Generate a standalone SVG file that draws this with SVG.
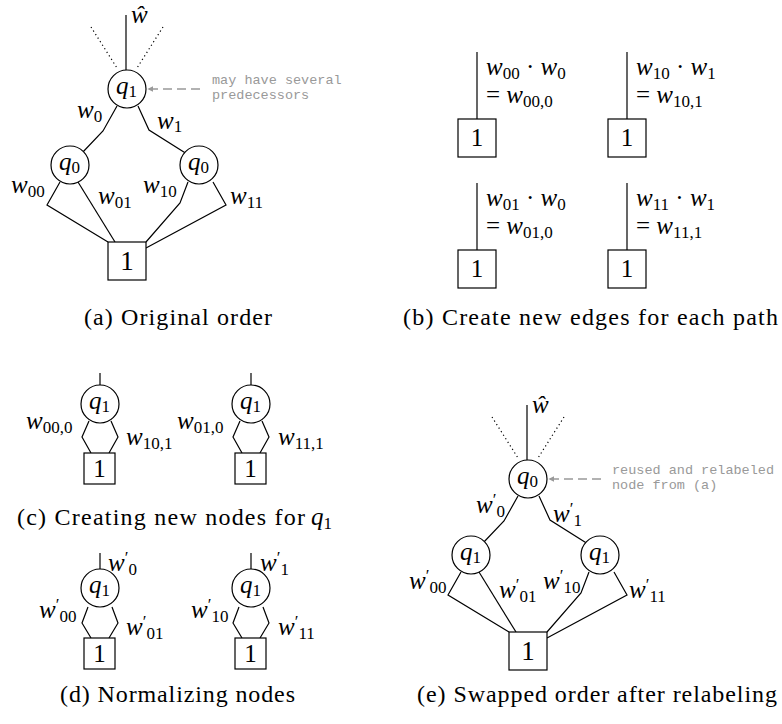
<svg xmlns="http://www.w3.org/2000/svg" width="782" height="724" viewBox="0 0 782 724">
<defs>
<style>
text{font-family:"Liberation Serif","Times New Roman","DejaVu Serif",serif}
.m{font-style:italic;font-size:25px;fill:#000}
.s{font-style:normal;font-size:17px}
.p{font-style:normal;font-size:17px}
.n{font-style:normal;font-size:25px;fill:#000}
.cap{font-size:24px;fill:#000}
.ann{font-family:"Liberation Mono","Courier New",monospace;font-size:13.5px;fill:#999}
.e{stroke:#000;stroke-width:1.2;fill:none}
.dot{stroke:#000;stroke-width:1.2;fill:none;stroke-dasharray:1.2 3}
.arr{stroke:#999;stroke-width:1.6;fill:none;stroke-dasharray:9 5}
.c{fill:#fff;stroke:#000;stroke-width:1.2}
</style>
<marker id="ah" viewBox="0 0 10 10" refX="9" refY="5" markerWidth="6" markerHeight="6" orient="auto" markerUnits="userSpaceOnUse">
<path d="M0,0 L10,5 L0,10 z" fill="#999"/>
</marker>
</defs>
<rect width="782" height="724" fill="#fff"/>

<!-- (a) -->
<g id="a-connectors">
<line class="e" x1="126" y1="15" x2="126" y2="70"/>
<line class="dot" x1="91" y1="27" x2="117" y2="68"/>
<line class="dot" x1="163" y1="27" x2="137" y2="68"/>
<polyline class="e" points="117,106 103,131 82,153"/>
<polyline class="e" points="138,106 149,130 187,154"/>
<polyline class="e" points="60,182 47,205 108,242"/>
<polyline class="e" points="78,182 115,242"/>
<polyline class="e" points="188,182 180,203 146,242"/>
<polyline class="e" points="213,182 226,205 146,248"/>
<line class="arr" x1="200" y1="89" x2="148" y2="89" marker-end="url(#ah)"/>
<text class="m" x="131" y="23">ŵ</text>
<text class="m" x="77" y="118">w<tspan class="s" dy="4">0</tspan></text>
<text class="m" x="157" y="129">w<tspan class="s" dy="3">1</tspan></text>
<text class="m" x="11" y="193">w<tspan class="s" dy="4">00</tspan></text>
<text class="m" x="98" y="204">w<tspan class="s" dy="4">01</tspan></text>
<text class="m" x="143" y="193">w<tspan class="s" dy="4">10</tspan></text>
<text class="m" x="230" y="204">w<tspan class="s" dy="4">11</tspan></text>
<text class="ann" x="212" y="84">may have several</text>
<text class="ann" x="212" y="99">predecessors</text>
</g>
<g id="a-q1"><circle class="c" cx="127" cy="89" r="19"/><text class="m" x="116" y="94">q<tspan class="s" dy="3">1</tspan></text></g>
<g id="a-q0-left"><circle class="c" cx="70" cy="165" r="19"/><text class="m" x="59" y="170">q<tspan class="s" dy="3">0</tspan></text></g>
<g id="a-q0-right"><circle class="c" cx="199" cy="165" r="19"/><text class="m" x="188" y="170">q<tspan class="s" dy="3">0</tspan></text></g>
<g id="a-one"><rect class="c" x="108" y="242" width="38" height="38"/><text class="n" x="127" y="270" text-anchor="middle" style="font-size:27px">1</text></g>
<text class="cap" x="84" y="325" textLength="188" lengthAdjust="spacing">(a) Original order</text>

<!-- (b) -->
<g id="b-connectors">
<line class="e" x1="477" y1="52" x2="477" y2="119"/>
<line class="e" x1="627" y1="52" x2="627" y2="119"/>
<line class="e" x1="477" y1="183" x2="477" y2="250"/>
<line class="e" x1="627" y1="183" x2="627" y2="250"/>
<text class="m" x="486" y="75">w<tspan class="s" dy="4">00</tspan><tspan class="n" dy="-4"> · </tspan>w<tspan class="s" dy="4">0</tspan></text>
<text class="m" x="486" y="103"><tspan class="n">= </tspan>w<tspan class="s" dy="4">00,0</tspan></text>
<text class="m" x="636" y="75">w<tspan class="s" dy="4">10</tspan><tspan class="n" dy="-4"> · </tspan>w<tspan class="s" dy="4">1</tspan></text>
<text class="m" x="636" y="103"><tspan class="n">= </tspan>w<tspan class="s" dy="4">10,1</tspan></text>
<text class="m" x="486" y="206">w<tspan class="s" dy="4">01</tspan><tspan class="n" dy="-4"> · </tspan>w<tspan class="s" dy="4">0</tspan></text>
<text class="m" x="486" y="234"><tspan class="n">= </tspan>w<tspan class="s" dy="4">01,0</tspan></text>
<text class="m" x="636" y="206">w<tspan class="s" dy="4">11</tspan><tspan class="n" dy="-4"> · </tspan>w<tspan class="s" dy="4">1</tspan></text>
<text class="m" x="636" y="234"><tspan class="n">= </tspan>w<tspan class="s" dy="4">11,1</tspan></text>
</g>
<g id="b-one-00"><rect class="c" x="458" y="119" width="38" height="38"/><text class="n" x="477" y="146" text-anchor="middle">1</text></g>
<g id="b-one-10"><rect class="c" x="608" y="119" width="38" height="38"/><text class="n" x="627" y="146" text-anchor="middle">1</text></g>
<g id="b-one-01"><rect class="c" x="458" y="250" width="38" height="38"/><text class="n" x="477" y="277" text-anchor="middle">1</text></g>
<g id="b-one-11"><rect class="c" x="608" y="250" width="38" height="38"/><text class="n" x="627" y="277" text-anchor="middle">1</text></g>
<text class="cap" x="403" y="325" textLength="375" lengthAdjust="spacing">(b) Create new edges for each path</text>

<!-- (c) -->
<g id="c-connectors">
<line class="e" x1="100" y1="373" x2="100" y2="385"/>
<polyline class="e" points="89,421 82,437 91,453"/>
<polyline class="e" points="111,421 118,437 109,453"/>
<line class="e" x1="251" y1="373" x2="251" y2="385"/>
<polyline class="e" points="240,421 233,437 242,453"/>
<polyline class="e" points="262,421 269,437 260,453"/>
<text class="m" x="26" y="429">w<tspan class="s" dy="4">00,0</tspan></text>
<text class="m" x="126" y="445">w<tspan class="s" dy="4">10,1</tspan></text>
<text class="m" x="177" y="429">w<tspan class="s" dy="4">01,0</tspan></text>
<text class="m" x="278" y="445">w<tspan class="s" dy="4">11,1</tspan></text>
</g>
<g id="c-q1-left"><circle class="c" cx="100" cy="404" r="19"/><text class="m" x="89" y="409">q<tspan class="s" dy="3">1</tspan></text></g>
<g id="c-one-left"><rect class="c" x="84" y="453" width="31" height="31"/><text class="n" x="99.5" y="477" text-anchor="middle">1</text></g>
<g id="c-q1-right"><circle class="c" cx="251" cy="404" r="19"/><text class="m" x="240" y="409">q<tspan class="s" dy="3">1</tspan></text></g>
<g id="c-one-right"><rect class="c" x="235" y="453" width="31" height="31"/><text class="n" x="250.5" y="477" text-anchor="middle">1</text></g>
<text class="cap" x="17" y="525"><tspan textLength="288" lengthAdjust="spacing">(c) Creating new nodes for</tspan><tspan class="m" x="311">q</tspan><tspan class="s" dy="4">1</tspan></text>

<!-- (d) -->
<g id="d-connectors">
<line class="e" x1="100" y1="553" x2="100" y2="569"/>
<polyline class="e" points="88,607 82,623 91,638"/>
<polyline class="e" points="112,607 118,623 109,638"/>
<line class="e" x1="251" y1="553" x2="251" y2="569"/>
<polyline class="e" points="239,607 233,623 242,638"/>
<polyline class="e" points="263,607 269,623 260,638"/>
<text class="m" x="108" y="571">w<tspan class="p" dy="-8">′</tspan><tspan class="s" dy="12">0</tspan></text>
<text class="m" x="260" y="571">w<tspan class="p" dy="-8">′</tspan><tspan class="s" dy="12">1</tspan></text>
<text class="m" x="39" y="618">w<tspan class="p" dy="-8">′</tspan><tspan class="s" dy="12">00</tspan></text>
<text class="m" x="126" y="635">w<tspan class="p" dy="-8">′</tspan><tspan class="s" dy="12">01</tspan></text>
<text class="m" x="191" y="618">w<tspan class="p" dy="-8">′</tspan><tspan class="s" dy="12">10</tspan></text>
<text class="m" x="278" y="635">w<tspan class="p" dy="-8">′</tspan><tspan class="s" dy="12">11</tspan></text>
</g>
<g id="d-q1-left"><circle class="c" cx="100" cy="588" r="19"/><text class="m" x="89" y="593">q<tspan class="s" dy="3">1</tspan></text></g>
<g id="d-one-left"><rect class="c" x="84" y="638" width="31" height="31"/><text class="n" x="99.5" y="662" text-anchor="middle">1</text></g>
<g id="d-q1-right"><circle class="c" cx="251" cy="588" r="19"/><text class="m" x="240" y="593">q<tspan class="s" dy="3">1</tspan></text></g>
<g id="d-one-right"><rect class="c" x="235" y="638" width="31" height="31"/><text class="n" x="250.5" y="662" text-anchor="middle">1</text></g>
<text class="cap" x="60" y="702" textLength="235" lengthAdjust="spacing">(d) Normalizing nodes</text>

<!-- (e) -->
<g transform="translate(401,390)">
<g id="e-connectors">
<line class="e" x1="126" y1="15" x2="126" y2="70"/>
<line class="dot" x1="91" y1="27" x2="117" y2="68"/>
<line class="dot" x1="163" y1="27" x2="137" y2="68"/>
<polyline class="e" points="117,106 103,131 82,153"/>
<polyline class="e" points="138,106 149,130 187,154"/>
<polyline class="e" points="60,182 47,205 108,242"/>
<polyline class="e" points="78,182 115,242"/>
<polyline class="e" points="188,182 180,203 146,242"/>
<polyline class="e" points="213,182 226,205 146,248"/>
<line class="arr" x1="200" y1="89" x2="148" y2="89" marker-end="url(#ah)"/>
<text class="m" x="75" y="123">w<tspan class="p" dy="-8">′</tspan><tspan class="s" dy="12">0</tspan></text>
<text class="m" x="152" y="132">w<tspan class="p" dy="-8">′</tspan><tspan class="s" dy="12">1</tspan></text>
<text class="m" x="8" y="199">w<tspan class="p" dy="-8">′</tspan><tspan class="s" dy="12">00</tspan></text>
<text class="m" x="98" y="208">w<tspan class="p" dy="-8">′</tspan><tspan class="s" dy="12">01</tspan></text>
<text class="m" x="142" y="199">w<tspan class="p" dy="-8">′</tspan><tspan class="s" dy="12">10</tspan></text>
<text class="m" x="228" y="208">w<tspan class="p" dy="-8">′</tspan><tspan class="s" dy="12">11</tspan></text>
<text class="m" x="131" y="23">ŵ</text>
<text class="ann" x="211" y="84">reused and relabeled</text>
<text class="ann" x="211" y="99">node from (a)</text>
</g>
<g id="e-q0"><circle class="c" cx="127" cy="89" r="19"/><text class="m" x="116" y="94">q<tspan class="s" dy="3">0</tspan></text></g>
<g id="e-q1-left"><circle class="c" cx="70" cy="165" r="19"/><text class="m" x="59" y="170">q<tspan class="s" dy="3">1</tspan></text></g>
<g id="e-q1-right"><circle class="c" cx="199" cy="165" r="19"/><text class="m" x="188" y="170">q<tspan class="s" dy="3">1</tspan></text></g>
<g id="e-one"><rect class="c" x="108" y="242" width="38" height="38"/><text class="n" x="127" y="270" text-anchor="middle" style="font-size:27px">1</text></g>
</g>
<text class="cap" x="417" y="702" textLength="360" lengthAdjust="spacing">(e) Swapped order after relabeling</text>
</svg>
